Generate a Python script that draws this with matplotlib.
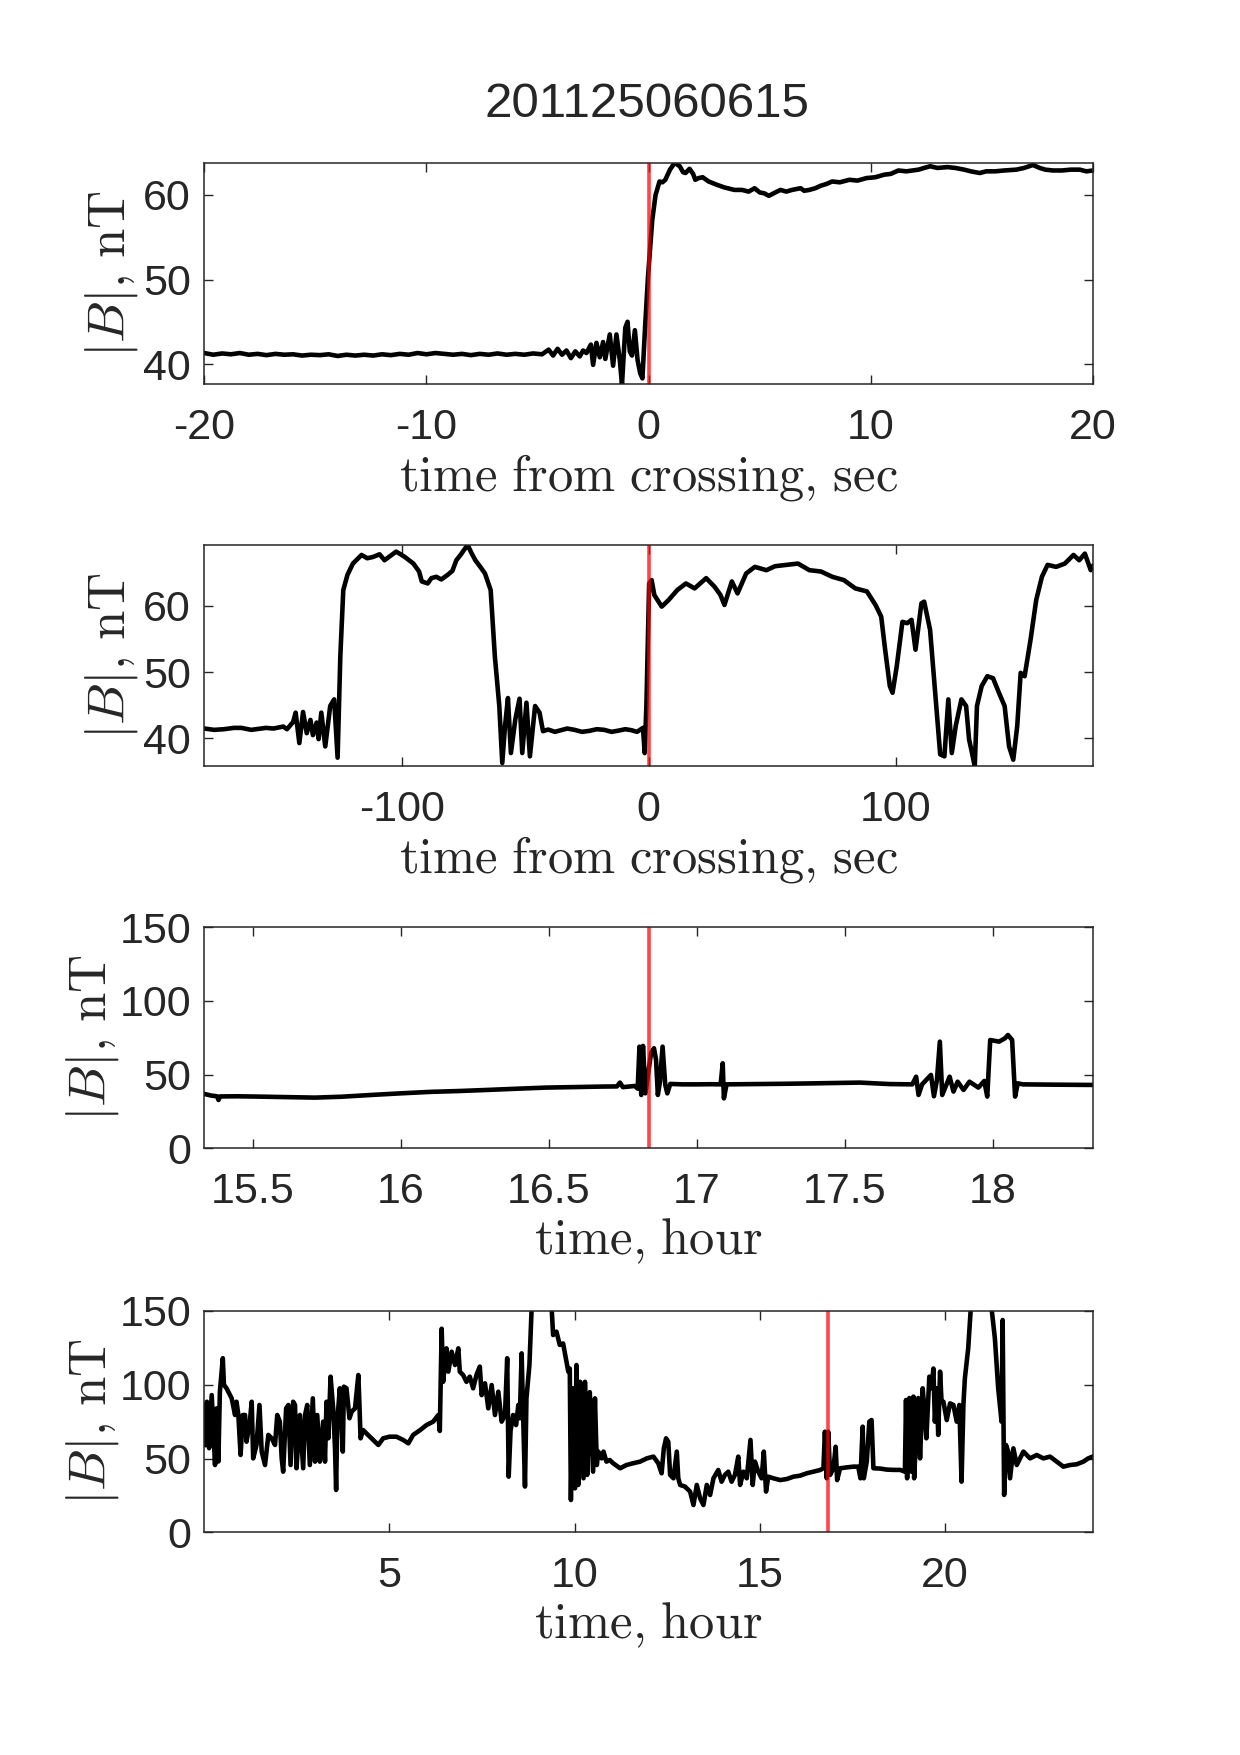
import matplotlib
matplotlib.use("Agg")
import matplotlib.pyplot as plt

plt.rcParams['font.family'] = ['Liberation Sans', 'DejaVu Sans']
plt.rcParams['mathtext.fontset'] = 'cm'
plt.rcParams['axes.unicode_minus'] = False

TITLE = "201125060615"
CROSS_SEC = 0.0
CROSS_HOUR = 16.837

# ---- panel 1: +-20 s around crossing ----
p1_t = [-20.0, -19.6, -19.2, -18.8, -18.4, -18.0, -17.6, -17.2, -16.8, -16.4, -16.0, -15.6, -15.2,
        -14.8, -14.4, -14.0, -13.6, -13.2, -12.8, -12.4, -12.0, -11.6, -11.2, -10.8, -10.4, -10.0,
        -9.6, -9.2, -8.8, -8.4, -8.0, -7.6, -7.2, -6.8, -6.4, -6.0, -5.6, -5.2, -4.8,
        -4.5, -4.3, -4.1, -3.9, -3.7, -3.5, -3.3, -3.1, -2.95, -2.8, -2.6, -2.5, -2.35, -2.2, -2.05,
        -1.95, -1.75, -1.6, -1.45, -1.3, -1.2, -1.05, -0.95, -0.85, -0.75, -0.62, -0.5, -0.38, -0.28,
        -0.16, -0.03, 0.16, 0.31, 0.49, 0.62, 0.75, 0.96, 1.17, 1.4, 1.55, 1.66, 1.84, 2.0, 2.1, 2.25,
        2.43, 2.7, 3.08, 3.4, 3.86, 4.2, 4.5, 4.77, 5.0, 5.2, 5.41, 5.7, 5.93, 6.2, 6.45, 6.84, 7.0,
        7.23, 7.5, 7.75, 8.0, 8.26, 8.6, 9.04, 9.4, 9.8, 10.2, 10.6, 10.9, 11.24, 11.6, 12.15, 12.4,
        12.67, 13.0, 13.45, 13.8, 14.2, 14.5, 14.9, 15.2, 15.6, 16.0, 16.55, 16.9, 17.3, 17.6, 17.85,
        18.2, 18.6, 19.0, 19.4, 19.7, 20.0]
p1_b = [41.3, 41.1, 41.25, 41.15, 41.3, 41.1, 41.2, 41.05, 41.2, 41.1, 41.15, 41.0, 41.1,
        41.05, 41.15, 40.95, 41.1, 41.0, 41.1, 41.0, 41.15, 41.05, 41.2, 41.1, 41.3, 41.15,
        41.3, 41.2, 41.1, 41.2, 41.05, 41.2, 41.1, 41.25, 41.1, 41.2, 41.1, 41.25, 41.15,
        41.7, 41.0, 41.8, 41.1, 41.6, 40.7, 41.5, 40.9, 41.6, 41.3, 42.3, 39.9, 42.5, 40.8, 42.6,
        40.6, 43.5, 39.8, 43.5, 40.5, 37.6, 44.3, 45.0, 41.5, 41.0, 44.0, 40.5, 38.9, 38.3,
        44.4, 50.3, 57.0, 60.0, 61.6, 61.5, 61.8, 63.0, 63.8, 63.4, 62.7, 62.6, 63.1, 62.5, 61.8, 62.0,
        62.1, 61.6, 61.2, 60.9, 60.6, 60.6, 60.4, 60.8, 60.3, 60.2, 59.9, 60.3, 60.6, 60.4, 60.6, 60.8, 60.5,
        60.6, 60.8, 61.1, 61.3, 61.6, 61.5, 61.8, 61.7, 62.0, 62.1, 62.4, 62.5, 62.9, 62.8, 63.0, 63.2,
        63.4, 63.2, 63.3, 63.2, 63.0, 62.8, 62.6, 62.8, 62.8, 62.9, 63.0, 63.2, 63.55, 63.2, 63.0,
        62.9, 62.9, 63.0, 63.0, 62.8, 62.9]

# ---- panel 2: +-180 s around crossing ----
p2_t = [-180, -176, -172, -168, -165, -161, -158, -155, -152, -148, -146.5, -144, -143, -141.5, -140,
        -138.5, -137, -136,
        -134.5, -133.7, -132.6, -131, -129, -127.4, -126, -124.9, -123.7, -122, -119.8, -116.3, -114,
        -111.6, -109, -107, -104.5, -102.3, -100.5, -98.8, -95.3, -93, -91.9, -89.5, -88, -86, -84,
        -81.4, -79.5, -77.9, -76, -74.9, -73.3, -71.8, -70.2, -68, -66.3, -64, -62.3, -60.5, -59.3,
        -58.2, -57, -55.8, -54, -52.3, -51.2, -49.5, -48.1, -46, -44.2, -42.8, -40.7, -38, -36, -33,
        -30, -27, -24, -21, -18, -15, -12, -9.5, -7, -4.7, -2.3, -1.6, -0.9, 0.2, 1.2, 2.3, 5.3, 8.1,
        11.6, 15.1, 18.6, 23.3, 26.7,
        29.1, 30.7, 33.7, 36, 39.5, 43, 47.7, 51.2, 55.8, 60.5, 65.1, 69.8, 74.4, 79.1, 83.7, 88.4,
        91.9, 94.2, 95.8, 97.7, 98.8, 100.5, 102.8, 104.7, 106.5, 108.1, 110.5, 111.6, 114, 116.3,
        118.1, 119.8, 121.4, 122.8, 124.4, 126.7, 128.6, 129.8, 131, 132.1, 133, 134.9, 137.2, 139.5,
        141.9, 144.2, 146, 147.7, 149.3, 150.7, 152.3, 154.7, 157, 159.3, 161.6, 165.1, 168.6, 172.1,
        174.4, 176.7, 179.1, 180]
p2_b = [41.5, 41.3, 41.4, 41.6, 41.6, 41.3, 41.45, 41.6, 41.5, 41.8, 41.4, 42.5, 43.9, 39.3, 44.0,
        40.8, 42.8, 40.5,
        42.4, 39.9, 43.9, 38.8, 44.9, 45.9, 37.1, 52.4, 62.4, 64.7, 66.4, 67.7, 67.2,
        67.4, 67.8, 66.9, 67.6, 68.2, 67.8, 67.4, 66.4, 65.2, 63.7, 63.4, 64.2, 64.4, 64.0,
        64.7, 65.3, 66.9, 67.8, 68.4, 69.2, 68.0, 66.9, 65.8, 64.9, 62.4, 52.4, 44.9, 36.3,
        41.8, 46.1, 37.8, 42.9, 46.0, 37.8, 45.4, 37.3, 44.9, 43.9, 41.1, 41.35, 41.0, 41.2, 41.5,
        41.3, 41.0, 41.15, 41.4, 41.3, 41.0, 41.2, 41.4, 41.25, 41.0, 41.6, 37.8, 45.1, 63.4, 63.9,
        61.65, 59.9, 60.9,
        62.4, 63.4, 62.65, 64.2, 62.9,
        61.65, 60.15, 63.7, 61.9, 64.9, 65.9, 65.4, 66.0, 66.2, 66.4, 65.4, 65.2, 64.4, 63.9, 62.65, 62.2,
        60.15, 58.4, 53.4, 47.9, 46.9, 50.9, 57.6, 57.4, 57.9, 53.4, 60.4, 60.65, 56.4, 45.9,
        37.6, 37.3, 45.9, 37.8, 41.9, 45.9, 44.9, 39.85, 37.8, 35.8, 44.9, 47.9, 49.4, 49.1,
        46.9, 44.9, 38.8, 36.8, 41.85, 49.9, 49.4, 54.9, 60.9, 64.4, 66.2, 65.9, 66.4, 67.7,
        66.9, 67.9, 65.4, 66.0]

# ---- panel 3: +-1.5 h around crossing ----
p3_h = [15.337, 15.36, 15.38, 15.385, 15.39, 15.45, 15.517, 15.6, 15.71, 15.8, 15.9, 16.0, 16.1,
        16.2, 16.29, 16.4, 16.49, 16.6, 16.68, 16.73, 16.74, 16.75, 16.79, 16.80, 16.806, 16.812,
        16.818, 16.826, 16.845, 16.855, 16.862, 16.868, 16.875, 16.884, 16.893, 16.9, 16.91, 16.95,
        17.0, 17.05, 17.08, 17.087, 17.091, 17.1, 17.2, 17.3, 17.4, 17.55, 17.65, 17.727, 17.74,
        17.748, 17.76, 17.79, 17.80, 17.81, 17.82, 17.828, 17.853, 17.866, 17.88, 17.9, 17.92, 17.95,
        17.97, 17.98, 17.99, 18.02, 18.04, 18.05, 18.064, 18.074, 18.083, 18.1, 18.2, 18.337]
p3_b = [36.9, 35.8, 35.3, 32.8, 35.2, 35.3, 35.1, 34.8, 34.4, 35.0, 36.2, 37.3, 38.3,
        38.9, 39.6, 40.5, 41.2, 41.6, 41.9, 42.0, 44.6, 41.5, 42.3, 40.5, 69.0, 36.2,
        69.5, 37.3, 64.5, 67.9, 60.0, 36.2, 45.0, 69.0, 43.2, 37.3, 43.7, 43.4,
        43.4, 43.5, 43.4, 57.7, 33.9, 43.4, 43.6, 43.8, 44.1, 44.6, 43.6, 43.4, 48.6,
        36.2, 43.4, 49.8, 35.3, 46.0, 72.4, 36.2, 48.6, 38.5, 45.2, 39.6, 45.2, 41.2,
        45.7, 35.1, 73.5, 72.4, 74.7, 76.9, 73.5, 35.1, 44.1, 43.4, 43.2, 43.0]

# ---- panel 4: whole day ----
p4_h = [0.0, 0.03, 0.07, 0.13, 0.2, 0.29, 0.33, 0.38, 0.42, 0.5, 0.53, 0.6, 0.74, 0.83, 0.87, 0.92,
        0.98, 1.04, 1.1, 1.14, 1.23, 1.28, 1.32, 1.41, 1.49, 1.55, 1.64, 1.73, 1.82, 1.91, 1.97, 2.04,
        2.09, 2.13, 2.21, 2.27, 2.33, 2.4, 2.45, 2.49, 2.58, 2.67, 2.72, 2.78, 2.85, 2.93, 2.99, 3.05,
        3.12, 3.21, 3.26, 3.3, 3.35, 3.41, 3.48, 3.53, 3.56, 3.59, 3.66, 3.74, 3.77, 3.84, 3.92, 3.98,
        4.07, 4.16, 4.19, 4.22, 4.29, 4.38, 4.56, 4.7, 4.83, 5.0, 5.19, 5.37, 5.51, 5.64, 5.83, 6.0,
        6.18, 6.32, 6.36, 6.41, 6.45, 6.54, 6.59, 6.68, 6.77, 6.86, 6.9, 6.99, 7.08, 7.17, 7.26, 7.35,
        7.44, 7.49, 7.58, 7.67, 7.76, 7.85, 7.94, 8.03, 8.12, 8.18, 8.22, 8.27, 8.34, 8.42, 8.48, 8.52,
        8.57, 8.61, 8.66, 8.7, 8.78, 8.84, 9.0, 9.2, 9.38, 9.42, 9.51, 9.6, 9.69, 9.78, 9.83, 9.87,
        9.9, 9.95, 10.01, 10.05, 10.1, 10.15, 10.24, 10.28, 10.34, 10.41, 10.5, 10.55, 10.6, 10.64,
        10.73, 10.78, 10.86, 10.95, 11.04, 11.23, 11.4, 11.58, 11.77, 11.95, 12.13, 12.26, 12.35,
        12.41, 12.47, 12.53, 12.58, 12.67, 12.76, 12.8, 12.85, 12.98, 13.12, 13.21, 13.3, 13.39,
        13.48, 13.57, 13.66, 13.75, 13.88, 13.97, 14.06, 14.15, 14.24, 14.33, 14.42, 14.47, 14.56,
        14.65, 14.75, 14.81, 14.87, 14.96, 15.05, 15.11, 15.17, 15.23, 15.37, 15.55, 15.73, 15.91,
        16.09, 16.27, 16.45, 16.63, 16.72, 16.76, 16.81, 16.85, 16.9, 16.99, 17.05, 17.09, 17.17,
        17.35, 17.53, 17.66, 17.72, 17.78, 17.81, 17.89, 17.96, 18.02, 18.07, 18.25, 18.43, 18.61,
        18.79, 18.92, 18.95, 18.98, 19.04, 19.1, 19.15, 19.17, 19.22, 19.28, 19.33, 19.4, 19.46,
        19.5, 19.58, 19.64, 19.69, 19.73, 19.78, 19.82, 19.87, 19.91, 19.96, 20.05, 20.14, 20.23,
        20.32, 20.39, 20.45, 20.5, 20.54, 20.63, 20.7, 20.9, 21.1, 21.26, 21.35, 21.44, 21.53, 21.56,
        21.6, 21.65, 21.71, 21.76, 21.85, 21.94, 22.12, 22.3, 22.48, 22.66, 22.84, 23.02, 23.2, 23.38,
        23.56, 23.74, 23.87, 23.99]
p4_b = [86.3, 59, 88.5, 57, 93, 45.6, 84, 48, 95, 118, 100, 97.6, 90.8, 79.5, 88.5, 79.5,
        52.4, 79.5, 79.5, 61.4, 75, 88.5, 50.1, 59.2, 86.3, 54.7, 45.6, 66, 63.7, 59.2, 79.5, 75,
        50.1, 41.1, 84, 86.3, 45.6, 88.5, 86.3, 43.4, 79.5, 43.4, 79.5, 86.3, 45.6, 90.8, 47.9, 79.5,
        47.9, 75, 47.9, 88.5, 63.7, 105.5, 84, 56.9, 28.7, 75, 97.6, 54.7, 98.7, 97.6, 77.3, 81.8,
        84, 106.6, 86.3, 63.7, 69.3, 67, 62.6, 59.2, 63.7, 64.8, 64.8, 62.6, 60.3, 66, 69.3, 72.7,
        75, 79.5, 68.7, 138, 102, 124.7, 108.9, 122.4, 113.4, 124.7, 108.9, 106.6, 102, 105.5, 97.6, 106.6,
        112.3, 93, 101, 84, 99.8, 79.5, 95.3, 75, 79.5, 118, 37.7, 68.7, 79.5, 72.7, 86.3, 77.3,
        121.3, 79.5, 31, 90.8, 113.4, 152, 200, 200, 152, 133.7, 136, 127, 128, 115.7, 108.9, 111,
        21.9, 97.6, 29.8, 113.4, 32.1, 102, 36.6, 102, 38.9, 95, 41.1, 90.8, 45.6, 54.7,
        50.1, 54.7, 47.9, 49, 46.8, 43.4, 45.6, 46.8, 47.9, 50.1, 51.3, 46.8, 40,
        56.9, 63.7, 61.4, 38.9, 36.6, 54.7, 36.6, 32.1, 31, 27.6, 18.5, 32.1, 23,
        18.5, 32.1, 25.3, 36.6, 42.2, 34.3, 38.9, 41.1, 34.3, 38.9, 51.3, 32.1, 41.1,
        36.6, 62.6, 32.1, 47.9, 41.1, 36.6, 54.7, 27.6, 37.7, 36.6, 35.4, 36.1, 37.7,
        38.4, 40, 41.1, 42.2, 43.4, 68.2, 36.6, 68.2, 38.9, 43.4, 58, 35.4, 43.4,
        44, 44.5, 44.5, 36.6, 71.6, 36.6, 47.9, 75, 76.1, 43.4, 43.2, 42.5, 42.3,
        42.3, 41.1, 89.7, 36.6, 91, 41.1, 92, 36.6, 63.7, 91, 50.1, 97.6, 79.5,
        63.7, 105.5, 97.6, 111, 75, 97.6, 66, 108.9, 88.5, 88.5, 76.1, 87.4, 86.3,
        75, 86.3, 34.3, 86.3, 104.4, 124.7, 152, 200, 200, 152, 131.5, 97.6, 75, 143.9,
        25.3, 59.2, 54.7, 36.6, 56.9, 45.6, 54.7, 50.1, 52.4, 50.1, 51.3, 47.9, 44.5, 45.6,
        46.1, 47.9, 50.1, 51.3]

panels = [
    dict(x=p1_t, y=p1_b, cross=CROSS_SEC, xlim=(-20, 20), ylim=(37.6, 63.75),
         xticks=[-20, -10, 0, 10, 20], xtl=['-20', '-10', '0', '10', '20'],
         yticks=[40, 50, 60], xlabel=r'$\mathrm{time\ from\ crossing{,}\ sec}$', ylx=-0.072),
    dict(x=p2_t, y=p2_b, cross=CROSS_SEC, xlim=(-180, 180), ylim=(35.8, 69.2),
         xticks=[-100, 0, 100], xtl=['-100', '0', '100'],
         yticks=[40, 50, 60], xlabel=r'$\mathrm{time\ from\ crossing{,}\ sec}$', ylx=-0.072),
    dict(x=p3_h, y=p3_b, cross=CROSS_HOUR, xlim=(15.337, 18.337), ylim=(0, 150),
         xticks=[15.5, 16, 16.5, 17, 17.5, 18], xtl=['15.5', '16', '16.5', '17', '17.5', '18'],
         yticks=[0, 50, 100, 150], xlabel=r'$\mathrm{time{,}\ hour}$', ylx=-0.094),
    dict(x=p4_h, y=p4_b, cross=CROSS_HOUR, xlim=(0, 24), ylim=(0, 150),
         xticks=[5, 10, 15, 20], xtl=['5', '10', '15', '20'],
         yticks=[0, 50, 100, 150], xlabel=r'$\mathrm{time{,}\ hour}$', ylx=-0.094),
]

fig = plt.figure(figsize=(12.4, 17.55), dpi=100)
W, H = 1240.0, 1755.0
left = 204.3 / W
width = (1093.0 - 204.3) / W
tops = [163.3, 545.0, 927.3, 1311.0]
bots = [384.3, 766.3, 1148.3, 1532.3]
axc = '#262626'

for p, top, bot in zip(panels, tops, bots):
    ax = fig.add_axes([left, 1 - bot / H, width, (bot - top) / H])
    ax.plot(p['x'], p['y'], color='black', lw=3.3, solid_joinstyle='round')
    ax.axvline(p['cross'], color='red', alpha=0.73, lw=2.6)
    ax.set_xlim(*p['xlim'])
    ax.set_ylim(*p['ylim'])
    ax.set_xticks(p['xticks'])
    ax.set_xticklabels(p['xtl'])
    ax.set_yticks(p['yticks'])
    ax.tick_params(direction='in', length=6.5, width=1.0, color=axc, labelcolor=axc,
                   labelsize=31, top=True, right=True)
    ax.tick_params(axis='x', pad=17)
    ax.tick_params(axis='y', pad=9.5)
    for s in ax.spines.values():
        s.set_color(axc)
        s.set_linewidth(1.1)
    ax.set_xlabel(p['xlabel'], fontsize=36.4, color=axc, va='baseline')
    ax.xaxis.set_label_coords(0.5, -106.0 / (bot - top))
    ax.set_ylabel(r'$|B|{,}\ \mathrm{nT}$', fontsize=38, color=axc)
    ax.yaxis.set_label_coords(p['ylx'], 0.5)

fig.text(646.7 / W, 1 - 116.7 / H, TITLE, ha='center', va='baseline', fontsize=35.5, color=axc)

fig.savefig('out.png', dpi=100, facecolor='white')
